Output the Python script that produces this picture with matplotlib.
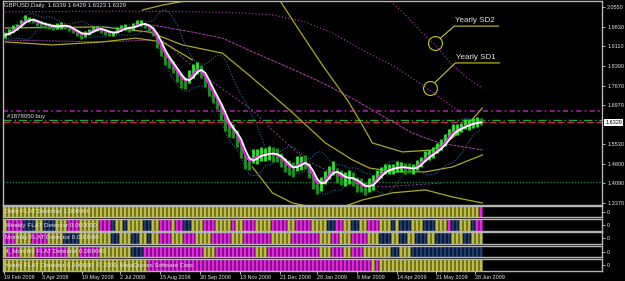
import numpy as np
import pandas as pd
import matplotlib
matplotlib.use("Agg")
import matplotlib.pyplot as plt

plt.rcParams['font.family'] = ['Liberation Sans', 'DejaVu Sans']

# ---------------- data ----------------
# closes (x1000), one bar per ~3 trading days, Feb 2008 - Jun 2009
close_milli = [1952, 1963, 1974, 1985, 1996, 2011, 2011, 2004, 1996, 1993,
               1989, 1985, 1982, 1985, 1989, 1985, 1978, 1967, 1960, 1952,
               1956, 1963, 1974, 1978, 1971, 1963, 1960, 1960, 1967, 1978,
               1982, 1974, 1985, 1993, 1996, 1989, 1978, 1963, 1927, 1894,
               1868, 1853, 1831, 1806, 1788, 1777, 1795, 1821, 1835, 1817,
               1788, 1751, 1729, 1703, 1670, 1630, 1604, 1601, 1575, 1531,
               1487, 1484, 1506, 1509, 1513, 1517, 1520, 1517, 1509, 1498,
               1476, 1465, 1462, 1480, 1487, 1484, 1454, 1421, 1396, 1410,
               1429, 1451, 1462, 1440, 1429, 1429, 1429, 1425, 1407, 1399,
               1392, 1403, 1414, 1436, 1451, 1458, 1462, 1465, 1469, 1469,
               1465, 1462, 1462, 1476, 1491, 1506, 1513, 1524, 1535, 1549,
               1568, 1590, 1604, 1608, 1615, 1623, 1626, 1630, 1634, 1633]
up_ext = [12, 10, 14, 9, 11, 13, 8, 12, 10, 9, 11, 13, 9, 12, 10, 8, 11, 14, 10, 9,
          12, 10, 13, 9, 11, 12, 10, 8, 13, 11, 9, 12, 10, 14, 11, 9, 12, 10,
          20, 24, 18, 22, 26, 19, 23, 21, 28, 25, 20, 24, 22, 27, 19, 25, 30, 22, 26, 24, 28, 32, 25,
          26, 30, 24, 28, 22, 27, 25, 30, 23, 26, 28, 24, 29, 22, 27, 31, 25, 28, 24, 26,
          23, 29, 25, 27, 22, 28, 24, 26, 30, 23, 27, 25,
          20, 17, 22, 18, 16, 21, 19, 17, 23, 18, 20, 16, 22, 19, 17, 21, 24, 20, 18, 22,
          19, 16, 21, 18, 20, 17, 15]
dn_ext = [10, 12, 9, 13, 11, 10, 12, 9, 11, 13, 10, 9, 12, 11, 13, 10, 12, 9, 11, 14,
          10, 12, 9, 11, 13, 10, 12, 11, 9, 10, 12, 11, 13, 9, 10, 12, 11, 14,
          24, 20, 26, 22, 19, 25, 28, 23, 20, 26, 24, 21, 27, 23, 25, 22, 28, 30, 24, 26, 33, 29, 27,
          28, 24, 30, 22, 27, 25, 29, 23, 28, 26, 24, 30, 25, 28, 23, 27, 32, 26, 29, 24,
          27, 23, 28, 25, 30, 24, 26, 29, 23, 27, 25, 28,
          18, 21, 16, 20, 22, 17, 19, 21, 16, 20, 18, 22, 17, 19, 21, 16, 18, 22, 20, 17,
          21, 18, 16, 20, 17, 19, 12]

date_labels = ["19 Feb 2008", "3 Apr 2008", "19 May 2008", "2 Jul 2008", "15 Aug 2008",
               "30 Sep 2008", "13 Nov 2008", "21 Dec 2008", "28 Jan 2009", "8 Mar 2009",
               "14 Apr 2009", "21 May 2009", "28 Jun 2009"]
date_pos = [-0.25, 9.25, 19.25, 28.75, 38.75, 48.75, 58.75, 68.75, 78, 88, 98, 107.75, 117.5]

y_ticks = [2.0550, 1.9830, 1.9110, 1.8390, 1.7670, 1.6970, 1.5530, 1.4800, 1.4090, 1.3370]
last_price = 1.6329
order_price = 1.6410
level_price = 1.6740
support_price = 1.4140

# yearly SD lines (bar index, price)
sd1_x = [0, 29.25, 49.25, 59.25, 66.75, 75, 81.75, 89.25, 97.5, 104.25, 108.5, 113.75]
sd1_y = [2.037, 2.040, 2.037, 2.033, 2.026, 2.000, 1.960, 1.897, 1.835, 1.769, 1.725, 1.670]
sd2_x = [93, 96, 100.5, 104.25, 107.5, 111.75, 115.5, 119.25]
sd2_y = [2.125, 2.081, 2.018, 1.960, 1.916, 1.842, 1.795, 1.758]
sdm_x = [36.75, 46.75, 54.25, 62.5, 71, 79.25, 87.5, 96, 101.75, 108.5, 119.25]
sdm_y = [1.989, 1.963, 1.941, 1.886, 1.832, 1.777, 1.714, 1.641, 1.593, 1.557, 1.531]
sdl_x = [39.25, 49.25, 61.75, 66.75, 75, 86.75, 94.25, 101.75, 109.25]
sdl_y = [1.934, 1.806, 1.678, 1.604, 1.495, 1.410, 1.396, 1.403, 1.410]
sda_x = [0, 24.25, 36.75]
sda_y = [1.934, 1.927, 1.934]

# regression channel curves (bar index, price)
rg1_x = [66.75, 68.5, 74.25, 79.25, 85.5, 88.5, 91.75, 99.25, 106.75, 111.75, 115.5, 119.25]
rg1_y = [2.117, 2.081, 1.952, 1.842, 1.714, 1.641, 1.557, 1.524, 1.531, 1.575, 1.623, 1.685]
rg2_x = [0, 24.25, 36, 44.25, 54.25, 61.75, 71, 80, 86.75, 91, 97.5, 105, 111.75, 119.25]
rg2_y = [1.978, 1.982, 1.963, 1.916, 1.886, 1.795, 1.678, 1.557, 1.495, 1.465, 1.451, 1.451, 1.469, 1.513]
rg3_x = [61.75, 66.75, 71.75, 76.75, 84.25, 89.25, 96.75, 105, 111.75, 119.25]
rg3_y = [1.469, 1.374, 1.337, 1.322, 1.322, 1.348, 1.374, 1.385, 1.359, 1.337]
rg4_x = [34.25, 39.25, 45, 48]
rg4_y = [2.044, 2.062, 2.077, 2.099]
rg5_x = [0, 11.75, 24.25, 32.5, 39.25, 46.75]
rg5_y = [1.927, 1.916, 1.927, 1.941, 1.927, 1.861]

strip_names = ["Daily FLAT Detector 1.000000", "Weekly FLAT Detector 0.000000",
               "Monthly FLAT Detector 0.000000", "4_Monthly FLAT Detector 0.000000",
               "Yearly FLAT Detector 0.000000"]
strip_runs = [
    [('y', 119), ('m', 1)],
    [('y', 1), ('m', 4), ('b', 3), ('y', 2), ('b', 3), ('y', 3), ('m', 3), ('y', 5), ('m', 3), ('b', 1),
     ('y', 2), ('b', 1), ('y', 4), ('b', 2), ('y', 2), ('m', 3), ('y', 1), ('m', 2), ('b', 2), ('y', 3),
     ('m', 3), ('y', 4), ('m', 1), ('y', 2), ('m', 3), ('y', 4), ('m', 4), ('y', 2), ('m', 4), ('y', 4),
     ('b', 2), ('m', 2), ('y', 2), ('b', 2), ('y', 2), ('m', 3), ('y', 3), ('b', 1), ('y', 1), ('b', 3),
     ('y', 3), ('b', 3), ('y', 3), ('m', 1), ('b', 2), ('y', 3), ('b', 1), ('m', 2)],
    [('m', 3), ('y', 4), ('m', 4), ('y', 4), ('b', 4), ('y', 8), ('b', 2), ('y', 3), ('b', 2), ('y', 2),
     ('b', 1), ('y', 2), ('m', 3), ('y', 3), ('m', 3), ('y', 4), ('m', 5), ('y', 3), ('m', 7), ('y', 5),
     ('m', 7), ('y', 3), ('m', 2), ('y', 3), ('m', 4), ('y', 3), ('b', 3), ('y', 2), ('b', 2), ('y', 2),
     ('b', 3), ('y', 2), ('b', 4), ('y', 3), ('b', 2), ('y', 3)],
    [('y', 1), ('m', 3), ('y', 4), ('m', 8), ('y', 3), ('m', 5), ('y', 8), ('b', 3), ('m', 15), ('y', 3),
     ('m', 10), ('y', 3), ('m', 13), ('y', 3), ('m', 3), ('y', 2), ('m', 3), ('y', 7), ('b', 2), ('y', 3),
     ('b', 18)],
    [('y', 36), ('m', 56), ('y', 1), ('m', 1), ('y', 26)],
]

# ---------------- derived ----------------
close = np.array(close_milli) / 1000.0
high = close + np.array(up_ext) / 1000.0
low = close - np.array(dn_ext) / 1000.0
idx = np.arange(len(close))
s = pd.Series(close)
ma_fast = s.ewm(span=2, adjust=False).mean()
ma_slow = s.rolling(3, min_periods=1).mean()
bb_mid = s.rolling(7, min_periods=1).mean()
bb_sd = s.rolling(7, min_periods=2).std().bfill()
bb_up = bb_mid + 2 * bb_sd
bb_dn = bb_mid - 2 * bb_sd

# ---------------- layout ----------------
W, H = 625, 281
fig = plt.figure(figsize=(W / 100, H / 100), dpi=100, facecolor='black')


def box(l, t, r, b):
    return [l / W, 1 - b / H, (r - l) / W, (b - t) / H]


XMIN = -0.6
XMAX = XMIN + 599 / 4.0
YMIN, YMAX = 1.3296, 2.0769
FRAME = '#b4b4b4'
TXT = '#e4e4e4'

ax = fig.add_axes(box(3, 1, 602, 205))
ax.set_facecolor('black')
ax.set_xlim(XMIN, XMAX)
ax.set_ylim(YMIN, YMAX)
for sp in ax.spines.values():
    sp.set_color(FRAME)
    sp.set_linewidth(1.0)
ax.set_xticks([])
ax.yaxis.tick_right()
ax.set_yticks(y_ticks)
ax.set_yticklabels([f"{v:.4f}" for v in y_ticks])
ax.tick_params(axis='y', colors=FRAME, labelcolor=TXT, labelsize=4.0, length=2.5, width=0.7, pad=1.2)

# horizontal levels
ax.axhline(level_price, color='#a020a0', lw=1.2, ls=(0, (3, 2, 1, 2)))
ax.axhline(order_price, color='#1fa82a', lw=1.0, ls=(0, (6, 2, 1, 2)))
ax.axhline(last_price, color='#c8284a', lw=1.0, ls=(0, (5, 2)))
ax.axhline(support_price, color='#1a8040', lw=1.0, ls=(0, (1, 1.2)))

# SD lines
pdot = dict(color='#b040b0', lw=0.8, ls=(0, (1, 2)))
ax.plot(sd1_x, sd1_y, **pdot)
ax.plot(sd2_x, sd2_y, **pdot)
ax.plot(sdm_x, sdm_y, color='#b040b0', lw=0.7, ls=(0, (3, 1)))
ax.plot(sdl_x, sdl_y, color='#9a3aa0', lw=0.7, ls=(0, (2, 2)))
ax.plot(sda_x, sda_y, color='#9a3aa0', lw=0.7, ls=(0, (2, 1)))

# regression curves
yel = dict(color='#aaaa1e', lw=0.9)
for xs, ys in [(rg1_x, rg1_y), (rg2_x, rg2_y), (rg3_x, rg3_y), (rg4_x, rg4_y), (rg5_x, rg5_y)]:
    ax.plot(xs, ys, **yel)

# bollinger
ax.plot(idx, bb_up, color='#2a6a9a', lw=0.8, ls=(0, (1, 1.5)))
ax.plot(idx, bb_dn, color='#2a6a9a', lw=0.8, ls=(0, (1, 1.5)))

# bars
cols = ['#2ae82a' if (i == 0 or close[i] >= close[i - 1]) else '#1c961c' for i in idx]
ax.vlines(idx, low, high, colors=cols, lw=2.0)
ax.plot(idx, ma_fast, color='#ff10ff', lw=1.3)
ax.plot(idx, ma_slow, color='white', lw=1.3)

# annotations
ax.plot([107.5], [1.923], marker='o', ms=10, mfc='none', mec='#c8c820', mew=0.8)
ax.plot([106.25], [1.758], marker='o', ms=10, mfc='none', mec='#c8c820', mew=0.8)
ax.plot([108.75, 112.25, 123.25], [1.941, 1.985, 1.985], color='#c8c820', lw=0.8)
ax.plot([107.5, 112.5, 123.5], [1.780, 1.850, 1.850], color='#c8c820', lw=0.8)
ax.text(112.4, 2.006, "Yearly SD2", color=TXT, fontsize=5.8, va='center', ha='left')
ax.text(112.7, 1.871, "Yearly SD1", color=TXT, fontsize=5.8, va='center', ha='left')

ax.text(0.001, 0.99, "GBPUSD,Daily  1.6339 1.6429 1.6323 1.6329", transform=ax.transAxes,
        color=TXT, fontsize=4.3, va='top', ha='left')
ax.text(0.5, order_price + 0.014, "#1878050 buy", color=TXT, fontsize=4.3, va='center', ha='left')
ax.text(1.006, last_price, f"{last_price:.4f}", transform=ax.get_yaxis_transform(),
        color='black', fontsize=4.0, va='center', ha='left',
        bbox=dict(boxstyle='square,pad=0.2', fc='white', ec='none'))

# ---------------- strips ----------------
strip_box = [(206, 217), (219, 231), (232, 244), (246, 257), (259, 271)]
pal = {'y': ('#74741a', '#bcbc48'), 'm': ('#8a0a8a', '#e028e0'), 'b': ('#0c1a3a', '#1e3c6e')}
for k, (t, b) in enumerate(strip_box):
    a = fig.add_axes(box(3, t, 602, b))
    a.set_facecolor('black')
    a.set_xlim(XMIN, XMAX)
    a.set_ylim(0, 1)
    for sp in a.spines.values():
        sp.set_color(FRAME)
        sp.set_linewidth(1.0)
    states = ''.join(c * n for c, n in strip_runs[k])
    for i, c in enumerate(states):
        dark, light = pal[c]
        a.bar(i, 1, width=1.0, color=dark, lw=0)
        a.bar(i - 0.15, 1, width=0.45, color=light, lw=0)
    a.set_yticks([0.5])
    a.yaxis.tick_right()
    a.set_yticklabels(["0"])
    a.tick_params(axis='y', colors=FRAME, labelcolor=TXT, labelsize=4.0, length=2, width=0.7, pad=1.2)
    a.text(0.004, 0.5, strip_names[k], transform=a.transAxes, color=TXT, fontsize=4.6,
           va='center', ha='left')
    if k == 4:
        a.text(0.157, 0.5, "© 2009, MetaQuotes Software Corp.", transform=a.transAxes,
               color=TXT, fontsize=4.3, va='center', ha='left')
        a.set_xticks(date_pos)
        a.set_xticklabels(date_labels, ha='left')
        a.tick_params(axis='x', colors=FRAME, labelcolor=TXT, labelsize=3.9, length=2, width=0.7, pad=1)
    else:
        a.set_xticks([])

fig.savefig("out.png", dpi=100, facecolor='black')
